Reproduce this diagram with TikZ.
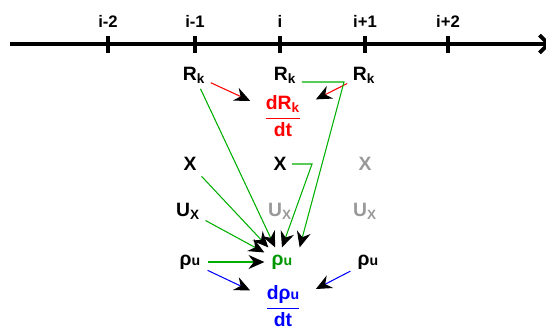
\documentclass[tikz,border=0pt]{standalone}
\usepackage{amsmath}
\usepackage{fontspec}
\setmainfont{Liberation Sans}
\usetikzlibrary{arrows.meta}
\definecolor{lgreen}{RGB}{0,175,0}
\definecolor{tgreen}{RGB}{0,150,0}
\newcommand{\rhou}{ρ{\fontsize{8}{9}\selectfont u}}
\tikzset{
  var/.style={font=\fontsize{11}{13}\selectfont\bfseries, inner sep=3pt},
  ghost/.style={var, text=black!40},
  frac/.style={var, minimum width=1.3cm},
  ticklabel/.style={font=\fontsize{9.5}{11}\selectfont\bfseries},
  tickmark/.style={line width=2.2pt},
  axis/.style={line width=2.2pt, -{Straight Barb[length=5pt, width=10pt]}},
  pointer/.style={line width=0.6pt, -{Stealth[color=black, length=9pt, width=8pt, inset=3pt]}},
  redarrow/.style={pointer, draw=red},
  greenarrow/.style={pointer, draw=lgreen},
  bluearrow/.style={pointer, draw=blue},
}

\begin{document}
\begin{tikzpicture}[x=0.02cm, y=-0.02cm]
\useasboundingbox (0,0) rectangle (546,329);

% grid axis
\coordinate (axl) at (10,44);
\coordinate (axr) at (551,44);
\draw[axis] (axl) -- (axr);
\foreach \x/\t [count=\n] in {108/i-2, 195/i-1, 280/i, 365/i+1, 448/i+2} {
  \draw[tickmark] (\x,36) -- (\x,53);
  \node[ticklabel] (t\n) at (\x,21) {\t};
}

% variables per cell
\node[var] (rkL) at (194,75) {R\textsubscript{k}};
\node[var] (rkC) at (285,75) {R\textsubscript{k}};
\node[var] (rkR) at (364,75) {R\textsubscript{k}};
\node[frac, text=red] (dR) at (283,116) {$\dfrac{\text{dR\textsubscript{k}}}{\text{dt}}$};

\node[var] (xL) at (190,164) {X};
\node[var] (xC) at (280,164) {X};
\node[ghost] (xR) at (365,164) {X};

\node[var] (uL) at (188,211) {U\textsubscript{X}};
\node[ghost] (uC) at (280,211) {U\textsubscript{X}};
\node[ghost] (uR) at (365,211) {U\textsubscript{X}};

\node[var, inner sep=4pt] (rhoL) at (190,262) {\rhou};
\node[var, text=tgreen, inner sep=4pt] (rhoC) at (282,262) {\rhou};
\node[var, inner sep=4pt] (rhoR) at (368,262) {\rhou};
\node[frac, text=blue] (dRho) at (283,306) {$\dfrac{\text{d\rhou}}{\text{dt}}$};

% residual derivative
\draw[redarrow] (rkL) -- (dR);
\draw[redarrow] (rkR) -- (dR);

% density update
\coordinate (rkbend) at (344,82);
\coordinate (xbend) at (312,164);
\draw[greenarrow] (rkL) -- (rhoC);
\draw[greenarrow] (xL) -- (rhoC);
\draw[greenarrow] (uL) -- (rhoC);
\draw[greenarrow] (rhoL) -- (rhoC);
\draw[greenarrow] (xC.east) -- (xbend) -- (rhoC.north);
\draw[greenarrow] (rkC.east |- rkbend) -- (rkbend) -- (rhoC.north east);

% density derivative
\draw[bluearrow] (rhoL) -- (dRho);
\draw[bluearrow] (rhoR) -- (dRho);
\end{tikzpicture}
\end{document}
